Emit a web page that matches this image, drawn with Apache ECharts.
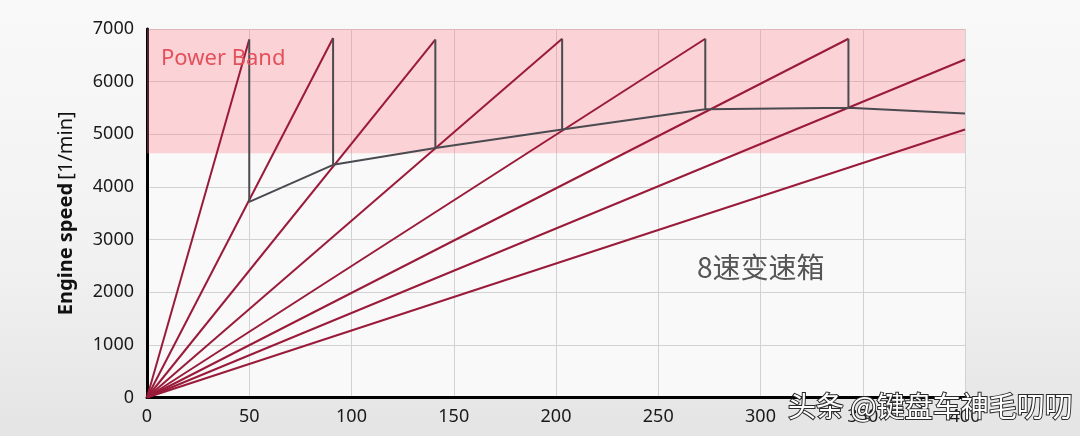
<!DOCTYPE html>
<html><head><meta charset="utf-8">
<script src="https://cdn.jsdelivr.net/npm/echarts@6/dist/echarts.min.js"></script>
<style>html,body{margin:0;padding:0;}#c{width:1080px;height:436px;}</style>
</head><body><div id="c"></div>
<script>
// Gear lines: each starts at origin and ends at (topSpeed, topRpm)
const gearNames = ['1','2','3','4','5','6','7','8'];
const gearTopSpeed = [50, 91, 141, 203, 273, 343, 400, 400];
const gearTopRpm = [6800, 6830, 6800, 6815, 6815, 6815, 6420, 5090];
// Shift path (dark line)
const shiftSpeed = [50, 50, 91, 91, 91, 141, 141, 141, 203, 203, 203, 273, 273, 273, 343, 343, 343, 400];
const shiftRpm   = [6800, 3715, 4420, 6830, 4420, 4740, 6800, 4740, 5090, 6815, 5090, 5475, 6815, 5475, 5505, 6815, 5505, 5395];
// Power band
const powerBandLow = 4640, powerBandHigh = 7000;
const xTicks = [0, 50, 100, 150, 200, 250, 300, 350, 400];
const yTicks = [0, 1000, 2000, 3000, 4000, 5000, 6000, 7000];

const chart = echarts.init(document.getElementById('c'));
const series = gearNames.map((g, i) => ({
  name: 'Gear ' + g, type: 'line', symbol: 'none', z: 3,
  lineStyle: {color: '#9a1a3a', width: 2},
  data: [[0, 0], [gearTopSpeed[i], gearTopRpm[i]]]
}));
series.push({
  name: 'Shift', type: 'line', symbol: 'none', z: 4,
  lineStyle: {color: '#4b4a50', width: 2},
  data: shiftSpeed.map((s, i) => [s, shiftRpm[i]])
});
series.push({
  name: 'band', type: 'line', data: [], z: 1,
  markArea: {silent: true, itemStyle: {color: 'rgba(255,120,128,0.3)'},
    data: [[{coord: [xTicks[0], powerBandLow]}, {coord: [xTicks[xTicks.length-1], powerBandHigh]}]]}
});

chart.setOption({
  animation: false,
  backgroundColor: {type: 'linear', x: 0, y: 0, x2: 0, y2: 1,
    colorStops: [{offset: 0, color: '#f9f9f9'}, {offset: 0.6, color: '#f1f1f1'}, {offset: 1, color: '#e4e4e4'}]},
  grid: {left: 147, right: 115, top: 29, bottom: 38.5, show: true, backgroundColor: '#f9f9f9', borderWidth: 0},
  xAxis: {
    type: 'value', min: 0, max: 400, interval: 50,
    axisLine: {show: true, onZero: false, lineStyle: {color: '#000', width: 3}},
    axisTick: {show: false},
    splitLine: {show: true, lineStyle: {color: '#d2d2d2', width: 1}},
    axisLabel: {color: '#1a1a1a', fontSize: 18, fontFamily: 'Noto Sans', margin: 10}
  },
  yAxis: {
    type: 'value', min: 0, max: 7000, interval: 1000,
    name: '{b|Engine speed} {n|[1/min]}', nameLocation: 'middle', nameGap: 71, nameRotate: 90,
    nameTextStyle: {rich: {b: {fontWeight: 'bold', fontSize: 20, color: '#111', fontFamily: 'Noto Sans'},
                           n: {fontSize: 20, color: '#111', fontFamily: 'Noto Sans'}}},
    axisLine: {show: true, lineStyle: {color: '#000', width: 3}},
    axisTick: {show: false},
    splitLine: {show: true, lineStyle: {color: '#d2d2d2', width: 1}},
    axisLabel: {color: '#1a1a1a', fontSize: 18, fontFamily: 'Noto Sans', margin: 13, formatter: v => String(v)}
  },
  series: series,
  graphic: [
    {type: 'text', left: 161, top: 48, z: 10, style: {text: 'Power Band', fill: '#e4505c', fontSize: 22, fontFamily: 'Noto Sans'}},
    {type: 'text', left: 697, top: 253, z: 10, style: {text: '8速变速箱', fill: '#555', fontSize: 28, fontFamily: 'Noto Sans CJK SC'}},
    {type: 'text', left: 787, top: 391, z: 20, style: {text: '头条 @键盘车神毛叨叨', fill: '#fff', stroke: '#2a2a2a', lineWidth: 2, fontSize: 28, fontFamily: 'Noto Sans CJK SC'}}
  ]
});
</script></body></html>
